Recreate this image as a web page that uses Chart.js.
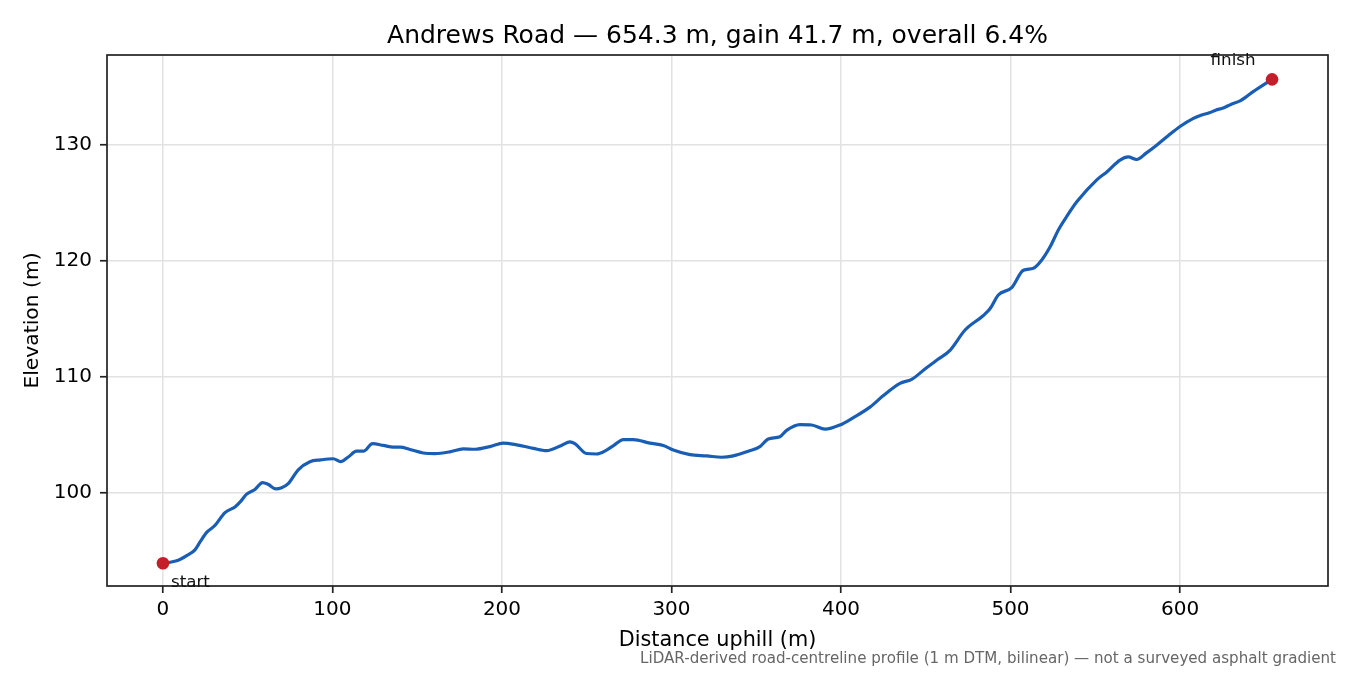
<!DOCTYPE html>
<html>
<head>
<meta charset="utf-8">
<title>Andrews Road profile</title>
<script src="https://cdn.jsdelivr.net/npm/chart.js@4.4.1/dist/chart.umd.min.js"></script>
<style>
  html, body { margin: 0; padding: 0; background: #fff; }
  #wrap { width: 1350px; height: 675px; position: relative; }
</style>
</head>
<body>
<div id="wrap"><canvas id="profile"></canvas></div>
<script>
// distance along the road (m) and DTM elevation (m)
var distance = [0, 5, 9, 14, 18.9, 22, 25.8, 30.7, 36.6, 42.5, 46, 49.4, 54.3, 58.8, 62, 66.7, 70, 73.9,
  79.8, 86.7, 93, 100.5, 104.8, 109.3, 114.2, 118.2, 123.7, 130, 135.9, 140, 145.7, 153.6, 160.5,
  169.3, 177.2, 184.1, 192.9, 200.8, 208.7, 218.5, 226.3, 235.1, 240.1, 243, 249.9, 255.8, 261.7,
  266, 271.6, 277.5, 287.3, 295.2, 301.1, 310.9, 320.8, 329.6, 336.5, 345.3, 352.2, 357.1, 364,
  367.9, 375.8, 382.7, 390.6, 399.4, 407.3, 417.1, 425, 434.8, 441.7, 450.5, 457, 464.3, 473.2,
  484, 488, 492.8, 500.7, 507.6, 513.5, 518, 523.3, 528.3, 533, 539.1, 550.9, 557, 564.6, 569.5,
  574.4, 580, 586.2, 593, 600, 607.9, 612, 617.7, 621, 625.5, 630, 635.4, 639, 643.2, 654.3];
var elevation = [93.94, 94.05, 94.2, 94.6, 95.1, 95.8, 96.6, 97.2, 98.3, 98.8, 99.3, 99.9, 100.3, 100.9, 100.75, 100.35, 100.45, 100.8,
  102.0, 102.7, 102.85, 102.95, 102.7, 103.1, 103.6, 103.6, 104.25, 104.1, 103.95, 103.95, 103.75, 103.45, 103.4,
  103.55, 103.8, 103.77, 104.0, 104.3, 104.15, 103.85, 103.65, 104.1, 104.4, 104.25, 103.4, 103.36, 103.7,
  104.1, 104.6, 104.6, 104.3, 104.1, 103.7, 103.3, 103.2, 103.08, 103.2, 103.6, 104.0, 104.66, 104.85,
  105.4, 105.9, 105.86, 105.5, 105.86, 106.5, 107.4, 108.4, 109.45, 109.8, 110.8, 111.5, 112.3, 114.05,
  115.3, 115.9, 117.07, 117.7, 119.2, 119.37, 120.0, 121.2, 122.7, 123.8, 125.1, 127.0, 127.7, 128.7, 128.97,
  128.75, 129.3, 129.98, 130.8, 131.6, 132.3, 132.55, 132.8, 133.0, 133.2, 133.5, 133.8, 134.15, 134.6, 135.66];

var endLabels = ['start', 'finish'];
var endDistance = [0, 654.3];
var endElevation = [93.94, 135.66];

var xTicks = [0, 100, 200, 300, 400, 500, 600];
var yTicks = [100, 110, 120, 130];

var titleText = 'Andrews Road \u2014 654.3 m, gain 41.7 m, overall 6.4%';
var noteText = 'LiDAR-derived road-centreline profile (1 m DTM, bilinear) \u2014 not a surveyed asphalt gradient';

var FONT = "'DejaVu Sans', 'Liberation Sans', sans-serif";

var profilePoints = distance.map(function(d, i) { return {x: d, y: elevation[i]}; });
var endPoints = endDistance.map(function(d, i) { return {x: d, y: endElevation[i]}; });

var decor = {
  id: 'decor',
  afterDraw: function(chart) {
    var ctx = chart.ctx, a = chart.chartArea;
    var xs = chart.scales.x, ys = chart.scales.y;
    ctx.save();
    // frame
    ctx.strokeStyle = '#222';
    ctx.lineWidth = 1.7;
    ctx.strokeRect(a.left, a.top, a.right - a.left, a.bottom - a.top);

    // title
    ctx.fillStyle = '#000';
    ctx.font = '25px ' + FONT;
    ctx.textAlign = 'center';
    ctx.textBaseline = 'alphabetic';
    ctx.fillText(titleText, (a.left + a.right) / 2, 43);

    // start / finish labels
    ctx.font = '16.7px ' + FONT;
    ctx.fillStyle = '#111';
    ctx.textBaseline = 'middle';
    ctx.textAlign = 'left';
    ctx.fillText(endLabels[0], xs.getPixelForValue(endDistance[0]) + 8, ys.getPixelForValue(endElevation[0]) + 19);
    ctx.textAlign = 'center';
    ctx.fillText(endLabels[1], xs.getPixelForValue(endDistance[1]) - 39, ys.getPixelForValue(endElevation[1]) - 19);

    // footnote
    ctx.font = '15.1px ' + FONT;
    ctx.fillStyle = '#666';
    ctx.textAlign = 'right';
    ctx.textBaseline = 'alphabetic';
    ctx.fillText(noteText, 1336, 663);
    ctx.restore();
  }
};

new Chart(document.getElementById('profile'), {
  type: 'scatter',
  data: {
    datasets: [{
      label: 'Elevation',
      data: profilePoints,
      showLine: true,
      borderColor: '#1a5db5',
      borderWidth: 3.2,
      pointRadius: 0,
      cubicInterpolationMode: 'monotone',
      order: 2
    }, {
      label: 'Ends',
      data: endPoints,
      showLine: false,
      pointRadius: 6.3,
      pointBackgroundColor: '#c41e2a',
      pointBorderWidth: 0,
      order: 1
    }]
  },
  options: {
    responsive: true,
    maintainAspectRatio: false,
    animation: false,
    layout: { padding: { top: 55, right: 22, left: 21, bottom: 22 } },
    plugins: {
      legend: { display: false },
      tooltip: { enabled: false }
    },
    scales: {
      x: {
        type: 'linear',
        min: -33,
        max: 687.3,
        afterBuildTicks: function(scale) { scale.ticks = xTicks.map(function(v) { return {value: v}; }); },
        afterFit: function(scale) { scale.height = 67; },
        grid: { color: '#e2e2e2', lineWidth: 1.5, tickColor: '#222', tickLength: 7, tickWidth: 1.7 },
        border: { display: false },
        ticks: { color: '#000', font: { family: FONT, size: 20 }, padding: 5, maxRotation: 0 },
        title: { display: true, text: 'Distance uphill (m)', color: '#000', font: { family: FONT, size: 20.8 }, padding: 0 }
      },
      y: {
        type: 'linear',
        min: 91.98,
        max: 137.76,
        afterBuildTicks: function(scale) { scale.ticks = yTicks.map(function(v) { return {value: v}; }); },
        afterFit: function(scale) { scale.width = 86; },
        grid: { color: '#e2e2e2', lineWidth: 1.5, tickColor: '#222', tickLength: 7, tickWidth: 1.7 },
        border: { display: false },
        ticks: { color: '#000', font: { family: FONT, size: 20 }, padding: 8 },
        title: { display: true, text: 'Elevation (m)', color: '#000', font: { family: FONT, size: 20.3 }, padding: 0 }
      }
    }
  },
  plugins: [decor]
});
</script>
</body>
</html>
